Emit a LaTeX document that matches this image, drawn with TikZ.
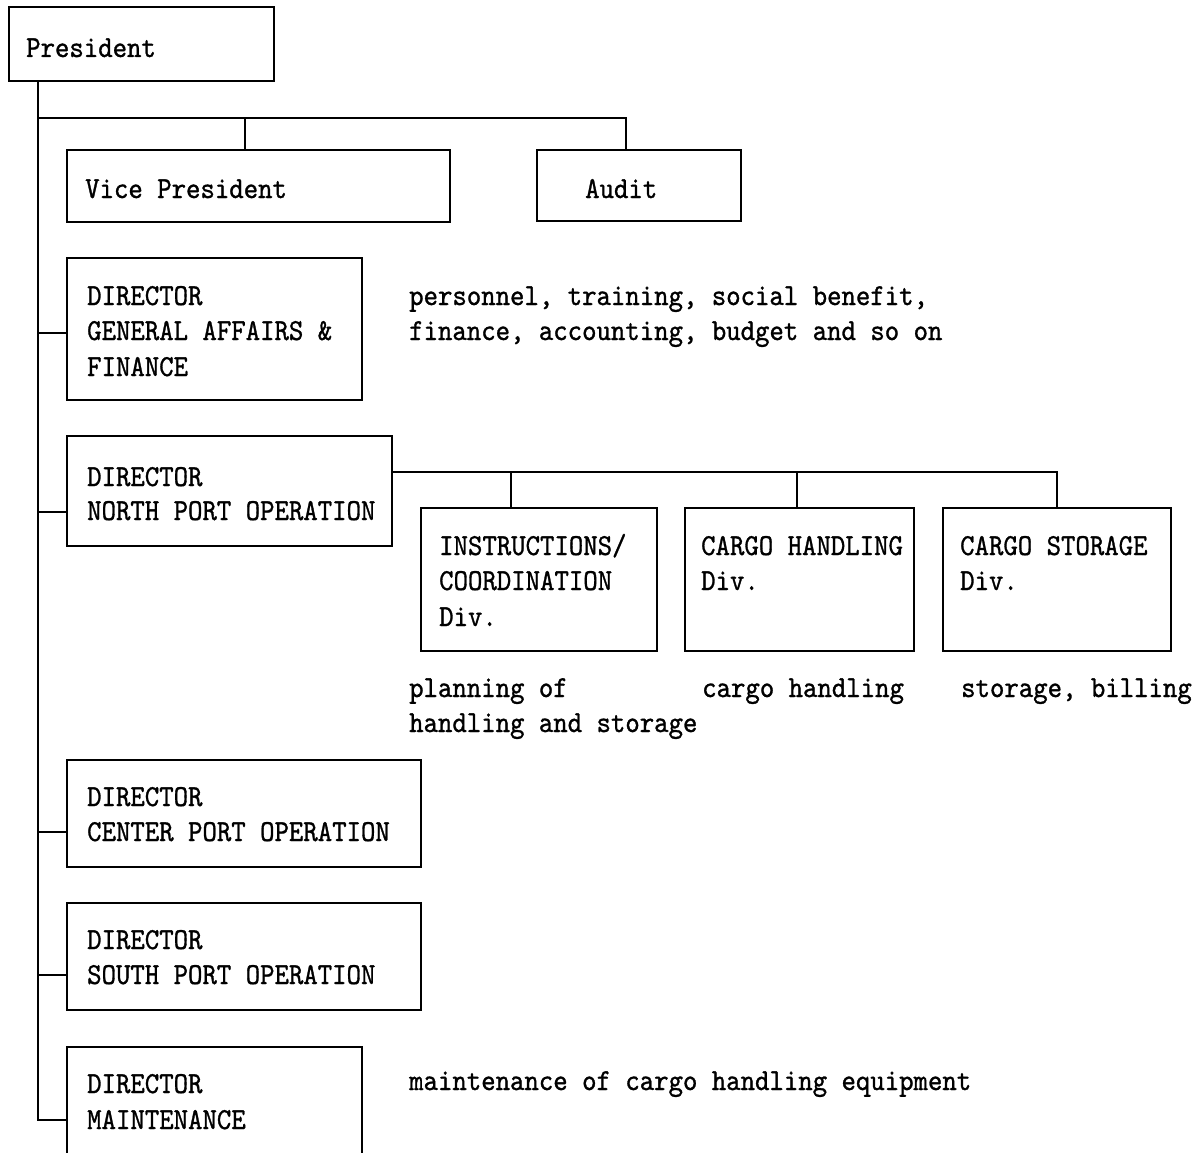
\documentclass[tikz,border=0pt]{standalone}
\usepackage{fontspec}
% narrow typewriter face for all labels
\newfontfamily\tw[Extension=.otf,FakeStretch=0.9,FakeBold=1]{lmmono10-regular}
\begin{document}
\begin{tikzpicture}[x=1pt,y=-1pt,
  box/.style={draw, line width=1.5pt, inner sep=0pt, outer sep=0pt, anchor=north west},
  txt/.style={anchor=base west, inner sep=0pt, font=\tw\fontsize{30.5}{35}\selectfont},
  wire/.style={line width=1.5pt}]
\useasboundingbox[fill=white] (0,0) rectangle (1197,1153);

% boxes
\node[box, minimum width=265pt, minimum height=74pt]  (pres)  at (9,7) {};
\node[box, minimum width=383pt, minimum height=72pt]  (vp)    at (67,150) {};
\node[box, minimum width=204pt, minimum height=71pt]  (audit) at (537,150) {};
\node[box, minimum width=295pt, minimum height=142pt] (ga)    at (67,258) {};
\node[box, minimum width=325pt, minimum height=110pt] (np)    at (67,436) {};
\node[box, minimum width=236pt, minimum height=143pt] (ins)   at (421,508) {};
\node[box, minimum width=229pt, minimum height=143pt] (ch)    at (685,508) {};
\node[box, minimum width=228pt, minimum height=143pt] (cs)    at (943,508) {};
\node[box, minimum width=354pt, minimum height=107pt] (ctr)   at (67,760) {};
\node[box, minimum width=354pt, minimum height=107pt] (sth)   at (67,903) {};
\node[box, minimum width=295pt, minimum height=130pt] (mnt)   at (67,1047) {};

% box texts
\node[txt] (tpres) at (26,57)  {President};
\node[txt] (tvp)   at (85,198) {Vice President};
\node[txt] (taud)  at (585,198) {Audit};
\node[txt] (tga1)  at (87,305) {DIRECTOR};
\node[txt] (tga2)  at (87,340) {GENERAL AFFAIRS \&};
\node[txt] (tga3)  at (87,376) {FINANCE};
\node[txt] (tnp1)  at (87,486) {DIRECTOR};
\node[txt] (tnp2)  at (87,520) {NORTH PORT OPERATION};
\node[txt] (tin1)  at (439,555) {INSTRUCTIONS/};
\node[txt] (tin2)  at (439,590) {COORDINATION};
\node[txt] (tin3)  at (439,626) {Div.};
\node[txt] (tch1)  at (701,555) {CARGO HANDLING};
\node[txt] (tch2)  at (701,590) {Div.};
\node[txt] (tcs1)  at (960,555) {CARGO STORAGE};
\node[txt] (tcs2)  at (960,590) {Div.};
\node[txt] (tct1)  at (87,806) {DIRECTOR};
\node[txt] (tct2)  at (87,841) {CENTER PORT OPERATION};
\node[txt] (tst1)  at (87,949) {DIRECTOR};
\node[txt] (tst2)  at (87,984) {SOUTH PORT OPERATION};
\node[txt] (tmn1)  at (87,1093) {DIRECTOR};
\node[txt] (tmn2)  at (87,1129) {MAINTENANCE};

% remarks beside the boxes
\node[txt] (rga1) at (409,305) {personnel, training, social benefit,};
\node[txt] (rga2) at (409,340) {finance, accounting, budget and so on};
\node[txt] (rin1) at (409,697) {planning of};
\node[txt] (rin2) at (409,732) {handling and storage};
\node[txt] (rch)  at (702,697) {cargo handling};
\node[txt] (rcs)  at (961,697) {storage, billing};
\node[txt] (rmn)  at (409,1090) {maintenance of cargo handling equipment};

% main trunk under the president
\coordinate (trunk) at (38,0);
\draw[wire] (trunk |- pres.south) -- (38,1120) -- (mnt.west |- 0,1120);

% bus to vice president and audit
\draw[wire] (38,118) -- (626,118) -- (audit.north -| 626,0);
\draw[wire] (245,118) -- (vp.north -| 245,0);

% branches to the directors
\draw[wire] (38,333) -- (ga.west |- 0,333);
\draw[wire] (38,512) -- (np.west |- 0,512);
\draw[wire] (38,832) -- (ctr.west |- 0,832);
\draw[wire] (38,975) -- (sth.west |- 0,975);

% bus to the divisions of north port operation
\draw[wire] (np.east |- 0,472) -- (1057,472) -- (cs.north -| 1057,0);
\draw[wire] (511,472) -- (ins.north -| 511,0);
\draw[wire] (797,472) -- (ch.north -| 797,0);
\end{tikzpicture}
\end{document}
